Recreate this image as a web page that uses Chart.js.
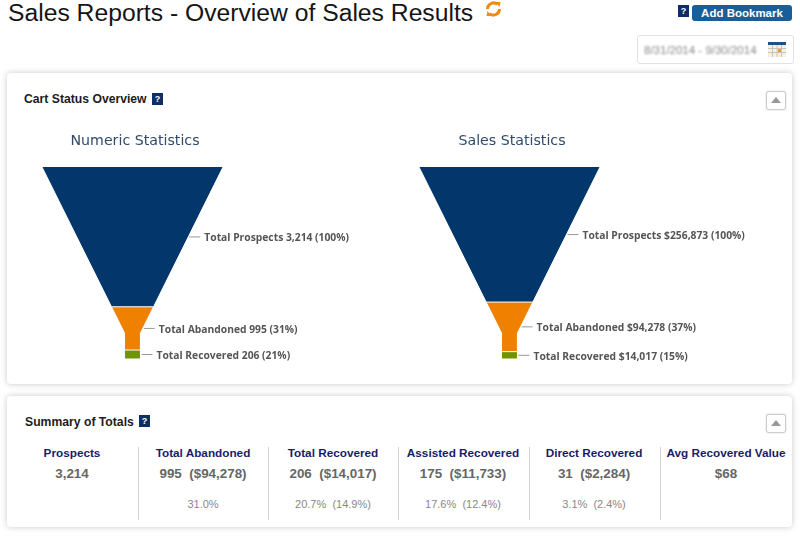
<!DOCTYPE html>
<html>
<head>
<meta charset="utf-8">
<script src="https://cdn.jsdelivr.net/npm/chart.js@4"></script>
<style>
  html, body { margin: 0; padding: 0; background: #fff; width: 800px; height: 537px; overflow: hidden; font-family: "Liberation Sans", Arial, sans-serif; }
  .abs { position: absolute; }
  h1 { position: absolute; left: 8px; top: -3px; margin: 0; font-size: 24.7px; line-height: 32px; font-weight: normal; color: #151515; white-space: nowrap; }
  .panel { position: absolute; left: 7px; width: 785px; background: #fff; border-radius: 4px; box-shadow: 0 0 6px rgba(0,0,0,.22); }
  .help { position: absolute; width: 11px; height: 12px; background: #0d2f66; color: #fff; font: bold 9px/12px "Liberation Sans"; text-align: center; }
  .sec { position: absolute; font: bold 12.2px/14px "Liberation Sans"; color: #1c1c1c; white-space: nowrap; }
  .collapse { position: absolute; left: 766px; width: 18px; height: 17px; background: #fff; border: 1px solid #ccc; border-radius: 3px; box-shadow: 0 0 2px rgba(0,0,0,.2); }
  .collapse:after { content: ""; position: absolute; left: 4px; top: 5px; border-left: 5px solid transparent; border-right: 5px solid transparent; border-bottom: 6px solid #999; }
  .btn { position: absolute; left: 692px; top: 5px; width: 100px; height: 16px; background: #1a5e99; border-radius: 3px; color: #fff; font: bold 11.5px/16px "Liberation Sans"; text-align: center; }
  .date { position: absolute; left: 637px; top: 35px; width: 155px; height: 27px; border: 1px solid #e2e2e2; border-radius: 3px; }
  .date span { position: absolute; left: 6px; top: 7px; font-size: 11.5px; line-height: 14px; color: #888; filter: blur(1px); white-space: nowrap; }
  canvas { position: absolute; }
  .sep { position: absolute; top: 447px; width: 1px; height: 73px; background: #d2d2d2; }
  .col { position: absolute; width: 130px; text-align: center; white-space: nowrap; }
  .head { top: 446px; font: bold 11.75px/14px "Liberation Sans"; color: #1b1b6b; }
  .count { top: 466px; font: bold 13.4px/16px "Liberation Sans"; color: #666; }
  .rate { top: 497px; font: 11px/14px "Liberation Sans"; color: #888; }
</style>
</head>
<body>
<h1>Sales Reports - Overview of Sales Results</h1>
<svg class="abs" style="left:484px;top:0" width="19" height="18" viewBox="0 0 18 18" fill="none" stroke="#ef8a17" stroke-width="3">
  <path d="M3 9a6 6 0 0 1 10-4.5"/><path d="M15 9a6 6 0 0 1-10 4.5"/>
  <path d="M11 2l5 0-1 5z" fill="#ef8a17" stroke="none"/><path d="M7 16l-5 0 1-5z" fill="#ef8a17" stroke="none"/>
</svg>
<div class="help" style="left:678px;top:5px">?</div>
<div class="btn">Add Bookmark</div>
<div class="date"><span>8/31/2014 - 9/30/2014</span>
  <svg class="abs" style="left:130px;top:6px" width="18" height="15" viewBox="0 0 18 15">
    <rect x="0" y="0" width="18" height="15" fill="#f6efe2"/><rect x="0" y="0" width="18" height="3" fill="#1f4f86"/>
    <path d="M0 6.5h18M0 10.5h18M4.5 3v12M9 3v12M13.5 3v12" stroke="#c9c4ba" stroke-width="1"/><rect x="10" y="7" width="3" height="3" fill="#ee9a2e"/>
  </svg>
</div>

<div class="panel" style="top:73px;height:311px"></div>
<div class="sec" style="left:24px;top:92px">Cart Status Overview</div>
<div class="help" style="left:152px;top:93px">?</div>
<div class="collapse" style="top:91px"></div>
<canvas id="numericFunnel" class="abs" style="left:8px;top:125px" width="385" height="255"></canvas>
<canvas id="salesFunnel" class="abs" style="left:400px;top:125px" width="385" height="255"></canvas>

<div class="panel" style="top:396px;height:131px"></div>
<div class="sec" style="left:25px;top:415px">Summary of Totals</div>
<div class="help" style="left:139px;top:415px">?</div>
<div class="collapse" style="top:414px"></div>
<div id="summary"></div>

<script>
  // Funnel data
  const stageColors = ["#03366b", "#f08000", "#6f9400"];
  const numericTitle = "Numeric Statistics";
  const numericValues = [3214, 995, 206];
  const numericLabels = ["Total Prospects 3,214 (100%)", "Total Abandoned 995 (31%)", "Total Recovered 206 (21%)"];
  const salesTitle = "Sales Statistics";
  const salesValues = [256873, 94278, 14017];
  const salesLabels = ["Total Prospects $256,873 (100%)", "Total Abandoned $94,278 (37%)", "Total Recovered $14,017 (15%)"];

  // Summary table
  const summaryHeads = ["Prospects", "Total Abandoned", "Total Recovered", "Assisted Recovered", "Direct Recovered", "Avg Recovered Value"];
  const summaryCounts = ["3,214", "995\u00a0 ($94,278)", "206\u00a0 ($14,017)", "175\u00a0 ($11,733)", "31\u00a0 ($2,284)", "$68"];
  const summaryRates = ["", "31.0%", "20.7%\u00a0 (14.9%)", "17.6%\u00a0 (12.4%)", "3.1%\u00a0 (2.4%)", ""];

  const columnCenters = [72, 203, 333, 463, 594, 726];
  const separators = [138, 268, 398, 529, 660];

  // Funnel shape: share of depth where the neck begins and half width of the neck
  const neckDepth = 0.865;
  const neckWidth = 0.088;

  function halfWidth(depth, total) {
    const share = depth / total;
    if (share >= neckDepth) return neckWidth;
    return 1 - (1 - neckWidth) * share / neckDepth;
  }

  // Closed outline of each stage, in value units
  function stageOutline(values, index) {
    const total = values.reduce((a, b) => a + b, 0);
    const top = values.slice(0, index).reduce((a, b) => a + b, 0);
    const bottom = top + values[index];
    const neck = neckDepth * total;
    const right = [{ x: halfWidth(top, total), y: top }];
    if (top < neck && bottom > neck) right.push({ x: neckWidth, y: neck });
    right.push({ x: halfWidth(bottom, total), y: bottom });
    const left = right.map((p) => ({ x: -p.x, y: p.y })).reverse();
    return right.concat(left);
  }

  // Texts beside the funnel with their small leader lines
  const funnelLabels = {
    id: "funnelLabels",
    afterDatasetsDraw(chart, args, opts) {
      const { ctx, scales } = chart;
      const total = opts.values.reduce((a, b) => a + b, 0);
      let top = 0;
      opts.values.forEach((value, i) => {
        const mid = top + value / 2;
        const edge = scales.x.getPixelForValue(halfWidth(mid, total));
        const y = scales.y.getPixelForValue(mid);
        ctx.save();
        ctx.strokeStyle = "#999";
        ctx.lineWidth = 1;
        ctx.beginPath();
        ctx.moveTo(edge + 1, y);
        ctx.lineTo(edge + 12, y);
        ctx.stroke();
        ctx.fillStyle = "#555";
        ctx.font = "bold 10.3px 'Open Sans'";
        ctx.textBaseline = "middle";
        ctx.fillText(opts.texts[i], edge + 16, y + 1.5);
        ctx.restore();
        top += value;
      });
    },
  };

  function drawFunnel(id, title, values, texts, padLeft, padRight) {
    const total = values.reduce((a, b) => a + b, 0);
    new Chart(document.getElementById(id), {
      type: "scatter",
      data: {
        datasets: values.map((v, i) => ({
          data: stageOutline(values, i),
          showLine: true,
          fill: "shape",
          tension: 0,
          pointRadius: 0,
          borderWidth: 1,
          borderColor: "#fff",
          backgroundColor: stageColors[i],
          clip: false,
        })),
      },
      plugins: [funnelLabels],
      options: {
        responsive: false,
        animation: false,
        layout: { padding: { left: padLeft, right: padRight, top: 0, bottom: 21 } },
        scales: {
          x: { display: false, min: -1, max: 1.055 },
          y: { display: false, min: 0, max: total, reverse: true },
        },
        plugins: {
          legend: { display: false },
          tooltip: { enabled: false },
          title: {
            display: true,
            text: title,
            fullSize: false,
            color: "#2f4a6b",
            font: { family: "'DejaVu Sans'", size: 14.2, weight: "normal", lineHeight: 1.2 },
            padding: { top: 7.5, bottom: 17.5 },
          },
          funnelLabels: { values: values, texts: texts },
        },
      },
    });
  }

  drawFunnel("numericFunnel", numericTitle, numericValues, numericLabels, 34, 165);
  drawFunnel("salesFunnel", salesTitle, salesValues, salesLabels, 19, 180);

  // Summary columns
  const summary = document.getElementById("summary");
  separators.forEach((x) => {
    const s = document.createElement("div");
    s.className = "sep";
    s.style.left = x + "px";
    summary.appendChild(s);
  });
  summaryHeads.forEach((head, i) => {
    [["head", head], ["count", summaryCounts[i]], ["rate", summaryRates[i]]].forEach(([cls, text]) => {
      const d = document.createElement("div");
      d.className = "col " + cls;
      d.style.left = columnCenters[i] - 65 + "px";
      d.textContent = text;
      summary.appendChild(d);
    });
  });
</script>
</body>
</html>
